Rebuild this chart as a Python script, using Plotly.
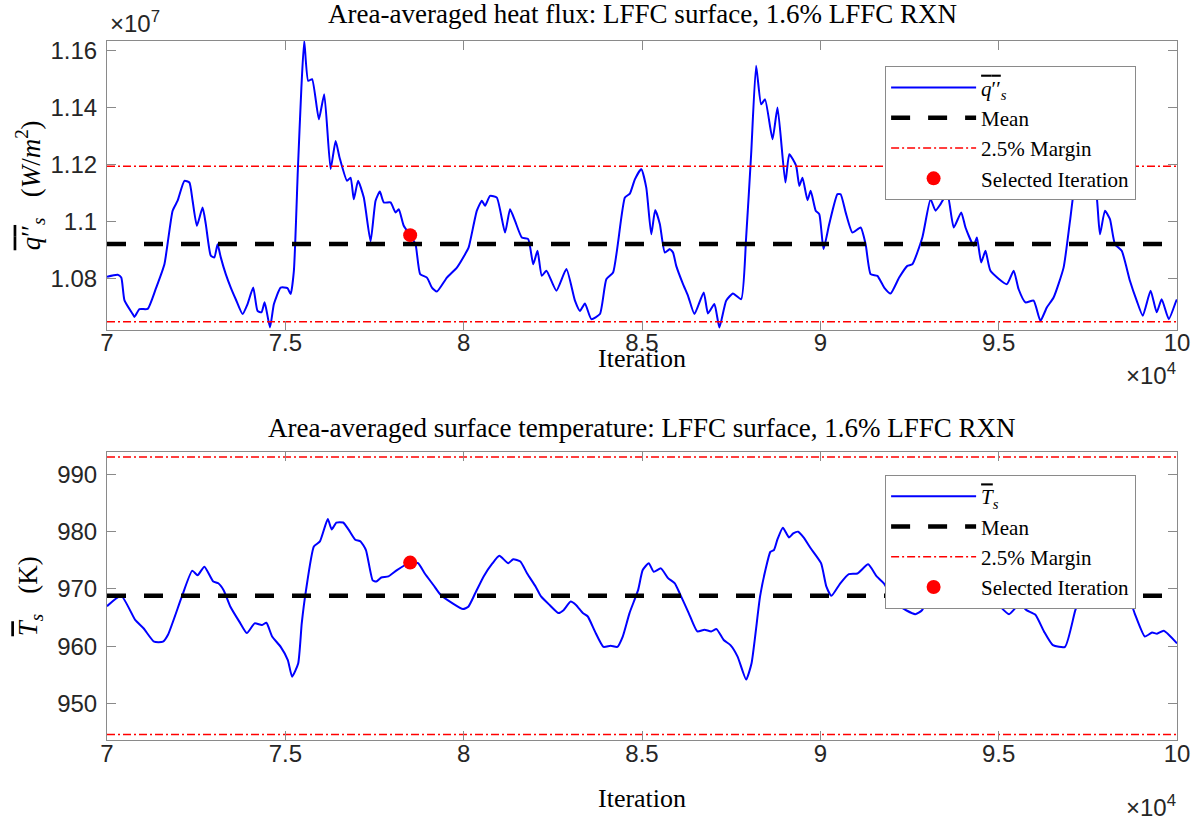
import plotly.graph_objects as go

# ---------------- data ----------------
iter_q = [70000, 70300, 70400, 70490, 70720, 70770, 70910, 71140, 71380, 71610,
          71840, 71980, 72170, 72310, 72400, 72520, 72680, 72770, 72910, 73010,
          73100, 73190, 73330, 73470, 73610, 73800, 73940, 74100, 74220, 74330,
          74420, 74570, 74680, 74870, 75060, 75150, 75240, 75350, 75450, 75530,
          75640, 75750, 75940, 76090, 76270, 76410, 76520, 76730, 76830, 76920,
          77040, 77200, 77390, 77530, 77650, 77760, 77950, 78090, 78180, 78320,
          78500, 78650, 78780, 78970, 79110, 79250, 79530, 79810, 80040, 80140,
          80370, 80510, 80600, 80740, 80930, 81160, 81300, 81440, 81630, 81810,
          81950, 82070, 82190, 82320, 82600, 82880, 83120, 83260, 83400, 83580,
          83820, 84000, 84190, 84520, 84660, 84800, 84980, 85120, 85260, 85370,
          85500, 85640, 85780, 85870, 85960, 86150, 86290, 86470, 86730, 86850,
          87030, 87170, 87360, 87550, 87780, 87920, 88060, 88200, 88340, 88450,
          88660, 88800, 89020, 89130, 89320, 89410, 89500, 89640, 89730, 89870,
          89970, 90090, 90250, 90480, 90570, 90710, 90900, 91130, 91270, 91410,
          91600, 91790, 91970, 92210, 92440, 92580, 92860, 93090, 93230, 93370,
          93560, 93740, 93950, 94070, 94300, 94390, 94510, 94630, 94770, 95230,
          95420, 95560, 95750, 95980, 96170, 96350, 96540, 96820, 97000, 97140,
          97330, 97520, 97700, 97840, 97980, 98120, 98260, 98450, 98680, 98870,
          99040, 99260, 99430, 99570, 99770, 99980, 100000]
heat_flux_e7 = [1.0806, 1.0813, 1.0803, 1.0723, 1.0675, 1.0665, 1.0692, 1.0693, 1.0768, 1.0850,
                1.1038, 1.1073, 1.1143, 1.1137, 1.1073, 1.0985, 1.1049, 1.0991, 1.0880, 1.0874,
                1.0920, 1.0874, 1.0815, 1.0768, 1.0727, 1.0675, 1.0710, 1.0768, 1.0686, 1.0681,
                1.0716, 1.0628, 1.0710, 1.0768, 1.0766, 1.0745, 1.0827, 1.1178, 1.1470, 1.1634,
                1.1494, 1.1500, 1.1359, 1.1447, 1.1184, 1.1283, 1.1225, 1.1143, 1.1154, 1.1078,
                1.1143, 1.1084, 1.0930, 1.1073, 1.1105, 1.1067, 1.1067, 1.1032, 1.1043, 1.0985,
                1.0952, 1.0920, 1.0815, 1.0803, 1.0768, 1.0754, 1.0803, 1.0838, 1.0885, 1.0909,
                1.1038, 1.1073, 1.1055, 1.1090, 1.1084, 1.0961, 1.1043, 1.1002, 1.0944, 1.0938,
                1.0850, 1.0897, 1.0809, 1.0827, 1.0757, 1.0833, 1.0722, 1.0686, 1.0712, 1.0657,
                1.0675, 1.0797, 1.0821, 1.1084, 1.1098, 1.1148, 1.1184, 1.1119, 1.0955, 1.1040,
                1.0991, 1.0891, 1.0903, 1.0891, 1.0844, 1.0780, 1.0739, 1.0675, 1.0751, 1.0677,
                1.0710, 1.0628, 1.0722, 1.0747, 1.0727, 1.0944, 1.1236, 1.1547, 1.1412, 1.1429,
                1.1289, 1.1400, 1.1137, 1.1236, 1.1196, 1.1125, 1.1154, 1.1075, 1.1108, 1.1038,
                1.1026, 1.0903, 1.0991, 1.1096, 1.1096, 1.1032, 1.0961, 1.0979, 1.0920, 1.0815,
                1.0809, 1.0768, 1.0747, 1.0803, 1.0844, 1.0850, 1.0944, 1.1078, 1.1038, 1.1061,
                1.1098, 1.0979, 1.1032, 1.0979, 1.0915, 1.0944, 1.0856, 1.0897, 1.0827, 1.0780,
                1.0827, 1.0762, 1.0716, 1.0722, 1.0651, 1.0698, 1.0733, 1.0838, 1.1002, 1.1131,
                1.1185, 1.1160, 1.1137, 1.0955, 1.1038, 1.1008, 1.0920, 1.0897, 1.0792, 1.0722,
                1.0669, 1.0757, 1.0681, 1.0727, 1.0657, 1.0722, 1.0725]

iter_T = [70000, 70400, 70790, 71030, 71320, 71570, 71710, 72100, 72390, 72540,
          72730, 72980, 73120, 73270, 73460, 73710, 73920, 74140, 74340, 74470,
          74630, 74870, 75070, 75190, 75360, 75460, 75580, 75800, 75970, 76190,
          76300, 76430, 76620, 76770, 76960, 77110, 77260, 77450, 77550, 77690,
          77890, 78130, 78500, 78720, 78910, 79150, 79350, 79690, 79980, 80130,
          80320, 80560, 80810, 81000, 81250, 81390, 81590, 81780, 82020, 82170,
          82410, 82660, 82800, 83000, 83150, 83340, 83480, 83680, 83920, 84120,
          84310, 84460, 84650, 84890, 85020, 85190, 85330, 85530, 85730, 85920,
          86060, 86310, 86550, 86750, 86940, 87090, 87290, 87480, 87680, 87920,
          88070, 88310, 88460, 88600, 88700, 88800, 88950, 89120, 89240, 89380,
          89530, 89730, 90020, 90170, 90310, 90560, 90800, 91040, 91340, 91580,
          91780, 92170, 92660, 92850, 93050, 93400, 93800, 94300, 94800, 95000,
          95290, 95590, 95780, 96030, 96270, 96520, 96860, 97150, 97340, 97700,
          98100, 98610, 98810, 99100, 99300, 99440, 99630, 100000]
surf_temp = [967.0, 968.8, 964.6, 963.1, 960.8, 960.8, 962.0, 968.7, 973.2, 972.4,
             973.9, 971.3, 971.0, 969.8, 966.9, 964.3, 962.3, 964.0, 963.7, 964.1,
             961.7, 959.9, 957.6, 954.7, 957.0, 964.0, 969.8, 977.4, 978.3, 982.2,
             980.4, 981.6, 981.6, 980.4, 978.6, 978.3, 976.8, 971.5, 971.3, 972.0,
             972.2, 973.3, 974.6, 974.5, 972.7, 970.7, 969.0, 967.5, 966.5, 966.9,
             969.2, 972.2, 974.5, 975.8, 974.5, 975.2, 974.8, 972.7, 970.4, 968.7,
             967.2, 965.8, 966.3, 967.8, 967.2, 965.8, 965.2, 962.6, 959.9, 960.1,
             959.9, 961.7, 965.8, 969.8, 973.3, 974.5, 973.0, 973.6, 971.9, 971.0,
             969.2, 965.8, 962.6, 962.9, 962.6, 963.0, 961.1, 960.2, 958.2, 954.2,
             957.0, 968.7, 973.3, 976.5, 976.8, 978.7, 980.7, 979.0, 979.7, 980.0,
             979.0, 977.1, 974.5, 970.4, 968.8, 971.0, 972.6, 972.7, 974.3, 972.2,
             971.0, 967.2, 965.6, 966.3, 968.7, 972.0, 972.5, 970.5, 968.4, 967.2,
             965.6, 967.4, 966.3, 965.5, 962.6, 960.2, 959.9, 966.3, 969.2, 972.0,
             971.5, 969.2, 965.8, 961.7, 962.4, 962.2, 962.7, 960.5]

heat_flux_mean_e7 = 1.0921
temp_mean = 968.83
margin_frac = 0.025
selected_iter = 78500
selected_q_e7 = 1.0952
selected_T = 974.6

x_tickvals = [70000, 75000, 80000, 85000, 90000, 95000, 100000]
x_ticktext = ["7", "7.5", "8", "8.5", "9", "9.5", "10"]
q_tickvals_e7 = [1.08, 1.10, 1.12, 1.14, 1.16]
q_ticktext = ["1.08", "1.1", "1.12", "1.14", "1.16"]
T_tickvals = [950, 960, 970, 980, 990]
T_ticktext = ["950", "960", "970", "980", "990"]

SCALE = 1e7
heat_flux = [v * SCALE for v in heat_flux_e7]
q_mean = heat_flux_mean_e7 * SCALE
sel_q = selected_q_e7 * SCALE
x_span = [iter_q[0], iter_q[-1]]

# ---------------- styling ----------------
SERIF = "Liberation Serif"
SANS = "Liberation Sans"
AX_COL = "#8a8a8a"
TICK_COL = "#262626"

fig = go.Figure()

def add_panel(x, y, mean, sel_x, sel_y, name, xa, ya, leg):
    fig.add_trace(go.Scatter(x=x, y=y, mode="lines", name=name,
                             line=dict(color="#0000ff", width=2, shape="spline", smoothing=0.5),
                             xaxis=xa, yaxis=ya, legend=leg))
    fig.add_trace(go.Scatter(x=x_span, y=[mean, mean], mode="lines", name="Mean",
                             line=dict(color="black", width=4.5, dash="19px,18px"),
                             xaxis=xa, yaxis=ya, legend=leg))
    up = mean * (1 + margin_frac)
    lo = mean * (1 - margin_frac)
    fig.add_trace(go.Scatter(x=x_span, y=[up, up], mode="lines", name="2.5% Margin",
                             line=dict(color="#ff0000", width=1.5, dash="8px,3px,2px,3px"),
                             xaxis=xa, yaxis=ya, legend=leg, legendgroup=leg + "m"))
    fig.add_trace(go.Scatter(x=x_span, y=[lo, lo], mode="lines", name="2.5% Margin",
                             line=dict(color="#ff0000", width=1.5, dash="8px,3px,2px,3px"),
                             xaxis=xa, yaxis=ya, legend=leg, legendgroup=leg + "m",
                             showlegend=False))
    fig.add_trace(go.Scatter(x=[sel_x], y=[sel_y], mode="markers", name="Selected Iteration",
                             marker=dict(color="#ff0000", size=14),
                             xaxis=xa, yaxis=ya, legend=leg))

q_name = ('<span style="text-decoration:overline"><i>q</i>′′</span><sub><i>s</i></sub>')
T_name = ('<span style="text-decoration:overline"><i>T</i></span><sub><i>s</i></sub>')
add_panel(iter_q, heat_flux, q_mean, selected_iter, sel_q, q_name, "x", "y", "legend")
add_panel(iter_T, surf_temp, temp_mean, selected_iter, selected_T, T_name, "x2", "y2", "legend2")

axis_common = dict(showline=True, linecolor=AX_COL, linewidth=1, mirror="allticks",
                   ticks="inside", ticklen=9, tickwidth=1, tickcolor=AX_COL,
                   showgrid=False, zeroline=False,
                   tickfont=dict(family=SANS, size=24, color=TICK_COL))

legend_common = dict(xanchor="left", yanchor="top",
                     bgcolor="white", bordercolor=AX_COL, borderwidth=1,
                     font=dict(family=SERIF, size=21, color="black"),
                     itemwidth=85, tracegroupgap=0)

fig.update_layout(
    width=1202, height=823,
    margin=dict(l=107, r=21, t=41, b=83),
    paper_bgcolor="white", plot_bgcolor="white",
    xaxis=dict(domain=[0, 1], anchor="y", range=[70000, 100000],
               tickvals=x_tickvals, ticktext=x_ticktext, ticklabelstandoff=-8,
               **axis_common),
    yaxis=dict(domain=[0.587, 1.0], anchor="x", range=[1.0620e7, 1.1634e7],
               tickvals=[v * SCALE for v in q_tickvals_e7], ticktext=q_ticktext,
               ticklabelstandoff=4, **axis_common),
    xaxis2=dict(domain=[0, 1], anchor="y2", range=[70000, 100000],
                tickvals=x_tickvals, ticktext=x_ticktext, ticklabelstandoff=-8,
                **axis_common),
    yaxis2=dict(domain=[0, 0.4124], anchor="x2", range=[943.65, 993.95],
                tickvals=T_tickvals, ticktext=T_ticktext,
                ticklabelstandoff=4, **axis_common),
    legend=dict(x=0.7272, y=0.9638, **legend_common),
    legend2=dict(x=0.7272, y=0.3791, **legend_common),
)

title_font = dict(family=SERIF, size=27, color="black")
label_font = dict(family=SERIF, size=26, color="black")
tick_like = dict(family=SANS, size=24, color=TICK_COL)
annotations = [
    dict(text="Area-averaged heat flux: LFFC surface, 1.6% LFFC RXN",
         x=0.5, y=1.0386, xref="paper", yref="paper", showarrow=False,
         xanchor="center", yanchor="middle", font=title_font),
    dict(text="Area-averaged surface temperature: LFFC surface, 1.6% LFFC RXN",
         x=0.5, y=0.4464, xref="paper", yref="paper", showarrow=False,
         xanchor="center", yanchor="middle", font=title_font),
    dict(text="Iteration", x=0.5, y=0.5455, xref="paper", yref="paper", showarrow=False,
         xanchor="center", yanchor="middle", font=label_font),
    dict(text="Iteration", x=0.5, y=-0.0830, xref="paper", yref="paper", showarrow=False,
         xanchor="center", yanchor="middle", font=label_font),
    dict(text="×10<sup>4</sup>", x=1.0009, y=0.5240, xref="paper", yref="paper",
         showarrow=False, xanchor="right", yanchor="middle", font=tick_like),
    dict(text="×10<sup>4</sup>", x=1.0009, y=-0.1187, xref="paper", yref="paper",
         showarrow=False, xanchor="right", yanchor="bottom", font=tick_like),
    dict(text="×10<sup>7</sup>", x=0.0009, y=1.027, xref="paper", yref="paper",
         showarrow=False, xanchor="left", yanchor="middle", font=tick_like),
    dict(text='<span style="text-decoration:overline"><i>q</i>′′</span><sub><i>s</i></sub>   (<i>W</i>/<i>m</i><sup>2</sup>)',
         x=-0.0717, y=0.794, xref="paper", yref="paper", showarrow=False,
         textangle=-90, xanchor="center", yanchor="middle", font=title_font),
    dict(text='<span style="text-decoration:overline"><i>T</i></span><sub><i>s</i></sub>   (K)',
         x=-0.0717, y=0.206, xref="paper", yref="paper", showarrow=False,
         textangle=-90, xanchor="center", yanchor="middle", font=title_font),
]
fig.update_layout(annotations=annotations)

fig.write_html("out.html")
